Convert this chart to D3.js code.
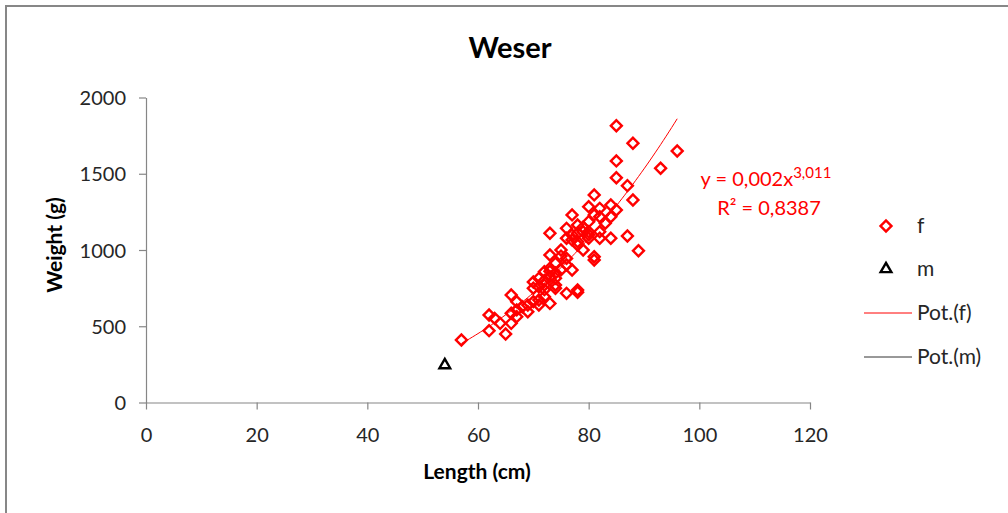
<!DOCTYPE html>
<html>
<head>
<meta charset="utf-8">
<script src="https://cdn.jsdelivr.net/npm/d3@7"></script>
<style>
  body { margin: 0; background: #fff; }
  svg { display: block; font-family: Lato, "Open Sans", sans-serif; }
</style>
</head>
<body>
<div id="chart-container"></div>
<script>
// female fish: length (cm) and weight (g)
const fLength = [57, 62, 62, 63, 64, 65, 66, 66, 66, 67, 67, 67, 68, 69, 69, 70, 70, 70, 71, 71, 71, 71,
  72, 72, 72, 72, 72, 73, 73, 73, 73, 73, 73, 74, 74, 74, 74, 74, 75, 75, 75, 76, 76, 76, 76, 76,
  77, 77, 77, 77, 78, 78, 78, 78, 78, 78, 79, 79, 79, 80, 80, 80, 80, 80, 81, 81, 81, 81, 82, 82,
  82, 82, 83, 84, 84, 84, 85, 85, 85, 85, 87, 87, 88, 88, 89, 93, 96];
const fWeight = [410, 471, 574, 552, 519, 449, 705, 519, 585, 607, 563, 661, 628, 639, 595, 661, 749, 790, 672, 639, 759, 814,
  858, 770, 694, 800, 740, 825, 650, 967, 1110, 880, 860, 814, 770, 749, 913, 850, 1000, 870, 960, 945, 902, 1077, 1142, 716,
  1230, 1098, 1066, 869, 723, 738, 1164, 1110, 1033, 1054, 1120, 1000, 1150, 1077, 1186, 1284, 1120, 1100, 956, 934, 1361, 1230, 1273, 1077,
  1218, 1120, 1175, 1295, 1218, 1077, 1262, 1474, 1584, 1815, 1422, 1092, 1328, 1700, 995, 1536, 1649];
// male fish
const mLength = [54];
const mWeight = [245];

// power trend line for f: y = a * x^b
const fitA = 0.002;
const fitB = 3.011;

const xTicks = [0, 20, 40, 60, 80, 100, 120];
const yTicks = [0, 500, 1000, 1500, 2000];

const legendItems = ["f", "m", "Pot.(f)", "Pot.(m)"];

const width = 1008, height = 513;
const red = "#ff0000";

const svg = d3.select("#chart-container").append("svg")
  .attr("width", width)
  .attr("height", height);

svg.append("rect")
  .attr("width", width).attr("height", height).attr("fill", "#fff");

// outer frame (right/bottom edge cut off like the screenshot)
svg.append("rect")
  .attr("x", 6).attr("y", 6)
  .attr("width", 1020).attr("height", 530)
  .attr("fill", "none")
  .attr("stroke", "#878787")
  .attr("stroke-width", 2);

const x = d3.scaleLinear().domain([0, 120]).range([146, 810]);
const y = d3.scaleLinear().domain([0, 2000]).range([402.5, 97.5]);

// axes
const xAxis = svg.append("g")
  .attr("transform", `translate(0,${y(0)})`)
  .call(d3.axisBottom(x).tickValues(xTicks).tickFormat(d3.format("d"))
    .tickSize(7).tickSizeOuter(0).tickPadding(17));
const yAxis = svg.append("g")
  .attr("transform", `translate(${x(0)},0)`)
  .call(d3.axisLeft(y).tickValues(yTicks).tickFormat(d3.format("d"))
    .tickSize(7).tickSizeOuter(0).tickPadding(13));

[xAxis, yAxis].forEach(g => {
  g.select(".domain").attr("stroke", "#868686").attr("stroke-width", 1.2);
  g.selectAll(".tick line").attr("stroke", "#868686").attr("stroke-width", 1.2);
  g.selectAll(".tick text")
    .attr("fill", "#262626")
    .style("font-size", "20px")
    .style("font-family", "Lato, 'Open Sans', sans-serif");
});
xAxis.selectAll(".tick text").attr("dy", "0.75em");
yAxis.selectAll(".tick text").attr("dy", "0.35em");

// titles
svg.append("text")
  .attr("x", 510).attr("y", 58)
  .attr("text-anchor", "middle")
  .style("font-size", "29px").style("font-weight", "bold")
  .attr("fill", "#000")
  .text("Weser");

svg.append("text")
  .attr("x", 477).attr("y", 479)
  .attr("text-anchor", "middle")
  .style("font-size", "21px").style("font-weight", "bold")
  .text("Length (cm)");

svg.append("text")
  .attr("transform", "translate(62,245) rotate(-90)")
  .attr("text-anchor", "middle")
  .style("font-size", "21px").style("font-weight", "bold")
  .text("Weight (g)");

// trend line for f
const fitPts = d3.range(d3.min(fLength), d3.max(fLength) + 0.01, 0.5)
  .map(L => [L, fitA * Math.pow(L, fitB)]);
svg.append("path")
  .datum(fitPts)
  .attr("fill", "none")
  .attr("stroke", red)
  .attr("stroke-width", 1)
  .attr("d", d3.line().x(d => x(d[0])).y(d => y(d[1])));

// f points: diamonds
const diamond = d3.symbol().type(d3.symbolSquare).size(60);
svg.append("g")
  .selectAll("path")
  .data(fLength.map((L, i) => [L, fWeight[i]]))
  .join("path")
  .attr("d", diamond)
  .attr("transform", d => `translate(${x(d[0])},${y(d[1])}) rotate(45)`)
  .attr("fill", "none")
  .attr("stroke", red)
  .attr("stroke-width", 2.4);

// m points: triangles
const tri = d3.symbol().type(d3.symbolTriangle).size(50);
svg.append("g")
  .selectAll("path")
  .data(mLength.map((L, i) => [L, mWeight[i]]))
  .join("path")
  .attr("d", tri)
  .attr("transform", d => `translate(${x(d[0])},${y(d[1])})`)
  .attr("fill", "none")
  .attr("stroke", "#000")
  .attr("stroke-width", 2.4);

// equation
const eq = svg.append("text")
  .attr("x", 766).attr("y", 186)
  .attr("text-anchor", "middle")
  .attr("fill", red)
  .style("font-size", "20px");
eq.append("tspan").text("y = 0,002x");
eq.append("tspan").attr("dy", -8).style("font-size", "15px").text("3,011");

svg.append("text")
  .attr("x", 769).attr("y", 215)
  .attr("text-anchor", "middle")
  .attr("fill", red)
  .style("font-size", "20px")
  .text("R\u00B2 = 0,8387");

// legend
const legY = [226, 269, 313, 357];
const leg = svg.append("g");
leg.append("path")
  .attr("d", diamond)
  .attr("transform", `translate(886,${legY[0]}) rotate(45)`)
  .attr("fill", "none").attr("stroke", red).attr("stroke-width", 2.4);
leg.append("path")
  .attr("d", tri)
  .attr("transform", `translate(886,${legY[1]})`)
  .attr("fill", "none").attr("stroke", "#000").attr("stroke-width", 2.4);
leg.append("line")
  .attr("x1", 864).attr("x2", 912).attr("y1", legY[2]).attr("y2", legY[2])
  .attr("stroke", red).attr("stroke-width", 1);
leg.append("line")
  .attr("x1", 864).attr("x2", 912).attr("y1", legY[3]).attr("y2", legY[3])
  .attr("stroke", "#333").attr("stroke-width", 1);
leg.selectAll("text.lab")
  .data(legendItems)
  .join("text")
  .attr("class", "lab")
  .attr("x", 917)
  .attr("y", (d, i) => legY[i])
  .attr("dy", "0.35em")
  .attr("fill", "#262626")
  .style("font-size", "21px")
  .text(d => d);
</script>
</body>
</html>
